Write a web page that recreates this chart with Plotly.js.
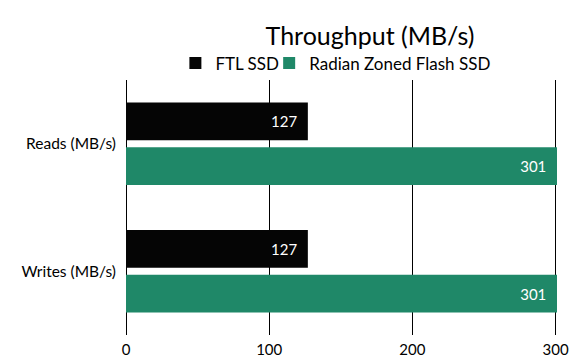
<!DOCTYPE html>
<html>
<head>
<meta charset="utf-8">
<script src="https://cdn.plot.ly/plotly-3.0.1.min.js"></script>
<style>html,body{margin:0;padding:0;background:#fff;}#chart{width:584px;height:358px;}</style>
</head>
<body>
<div id="chart"></div>
<script>
const categories = ["Reads (MB/s)", "Writes (MB/s)"];
const seriesNames = ["FTL SSD", "Radian Zoned Flash SSD"];
const ftlValues = [127, 127];
const radianValues = [301, 301];
const xTickValues = [0, 100, 200, 300];
const xTickLabels = ["0", "100", "200", "300"];

const FONT = "Lato, 'Open Sans', sans-serif";
const colors = ["#050505", "#1f8868"];

function barTrace(name, values, color, legendId) {
  return {
    type: "bar",
    orientation: "h",
    name: name,
    legend: legendId,
    y: categories,
    x: values,
    marker: {color: color, line: {width: 0}},
    text: values.map(v => String(v) + "\u00a0\u00a0"),
    textposition: "inside",
    insidetextanchor: "end",
    textfont: {family: FONT, size: 15, color: "#ffffff"},
    hoverinfo: "skip"
  };
}

const data = [
  barTrace(seriesNames[0], ftlValues, colors[0], "legend"),
  barTrace(seriesNames[1], radianValues, colors[1], "legend2")
];

function legendAt(leftPx) {
  return {
    orientation: "h",
    xref: "paper", x: (leftPx - 125.5) / 432, xanchor: "left",
    yref: "paper", y: (335.5 - 63) / 256, yanchor: "middle",
    font: {family: FONT, size: 17, color: "#000000"},
    itemwidth: 30,
    bgcolor: "rgba(0,0,0,0)"
  };
}

const layout = {
  width: 584,
  height: 358,
  margin: {l: 125.5, r: 26.5, t: 79.5, b: 22.5, pad: 0},
  paper_bgcolor: "#ffffff",
  plot_bgcolor: "#ffffff",
  font: {family: FONT, color: "#000000", size: 15},
  title: {
    text: "Throughput (MB/s)",
    font: {family: FONT, size: 25, color: "#000000"},
    xref: "container", x: 370 / 584, xanchor: "center",
    yref: "container", y: 1 - 36 / 358, yanchor: "middle"
  },
  showlegend: true,
  legend: legendAt(175),
  legend2: legendAt(269),
  barmode: "group",
  bargap: 0.297,
  bargroupgap: 0.156,
  xaxis: {
    range: [0, 301],
    tickvals: xTickValues,
    ticktext: xTickLabels,
    showgrid: true,
    gridcolor: "#000000",
    gridwidth: 1,
    zeroline: true,
    zerolinecolor: "#000000",
    zerolinewidth: 1,
    showline: false,
    ticks: "",
    ticklabelstandoff: 4,
    tickfont: {family: FONT, size: 15, color: "#000000"},
    fixedrange: true
  },
  yaxis: {
    autorange: "reversed",
    showgrid: false,
    zeroline: false,
    showline: false,
    ticks: "",
    ticklabelstandoff: 9,
    tickfont: {family: FONT, size: 15.5, color: "#000000"},
    fixedrange: true
  }
};

Plotly.newPlot("chart", data, layout, {displayModeBar: false, staticPlot: true});
</script>
</body>
</html>
